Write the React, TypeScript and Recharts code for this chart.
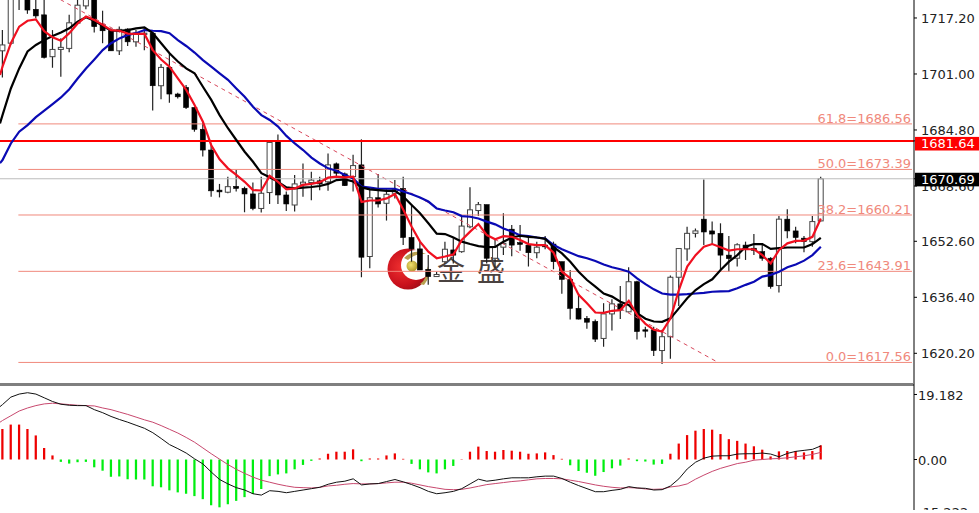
import React from "react";
import { ComposedChart, Bar, Line, XAxis, YAxis, ReferenceLine } from "recharts";

const opens = [1707.7,1709.9,1726,1726,1719.7,1718.1,1706.0,1708.1,1708.4,1715.7,1720.7,1726,1715.2,1713.5,1707.7,1714.0,1710.3,1712.5,1712.8,1697.6,1702.9,1695.2,1697.1,1691.3,1685.0,1679.0,1667.4,1666.8,1668.5,1667.9,1666.3,1662.1,1666.7,1681.4,1666.0,1663.1,1669.1,1669.6,1670.1,1669.8,1675.0,1672.1,1671.3,1674.7,1648.2,1665.2,1663.6,1666.5,1667.9,1653.7,1650.4,1644.5,1642.4,1646.7,1650.1,1649.6,1656.8,1661.5,1663.2,1647.7,1650.9,1656.1,1652.2,1651.5,1649.3,1651.5,1651.8,1646.7,1641.6,1633.2,1630.3,1629.4,1624.5,1631.6,1634.5,1632.2,1640.9,1627.0,1627.0,1621.0,1625.0,1642.2,1650.4,1654.9,1659.0,1655.6,1654.9,1648.6,1647.7,1651.5,1650.6,1649.6,1647.7,1639.8,1659.0,1655.6,1653.5,1652.5,1658.5];
const closes = [1709.4,1726,1724,1719.5,1717.8,1705.8,1708.1,1708.7,1715.8,1720.9,1723,1714.7,1713.5,1707.7,1713.9,1710.3,1712.8,1712.8,1697.6,1702.9,1695.2,1694.4,1691.3,1685.0,1679.0,1667.2,1666.9,1668.4,1667.9,1666.3,1662.1,1666.5,1681.2,1666.0,1663.4,1669.2,1669.7,1670.3,1669.2,1674.7,1672.3,1668.7,1674.5,1648.0,1665.2,1663.4,1666.2,1667.5,1653.7,1650.4,1644.3,1642.4,1643.0,1650.3,1648.6,1657.0,1661.7,1663.2,1647.7,1651.0,1652.0,1651.5,1651.7,1649.3,1650.9,1651.0,1646.7,1641.6,1633.2,1630.1,1629.2,1624.3,1631.6,1634.5,1632.7,1640.9,1626.5,1626.6,1621.0,1625.0,1642.2,1650.5,1654.9,1655.6,1655.3,1654.7,1648.6,1647.6,1651.6,1650.3,1650.0,1647.7,1639.5,1659.0,1655.6,1653.7,1652.5,1658.3,1670.69];
const highs = [1713.7,1728,1730,1728,1725,1724,1713.7,1711.3,1718.1,1723,1725,1728,1719.3,1714.2,1714.7,1714.2,1713.7,1714.2,1713.2,1703.9,1706.8,1695.6,1697.8,1691.5,1687.2,1680.4,1669.2,1671.3,1673.2,1668.4,1669.6,1671.3,1681.4,1683.5,1667.0,1671.8,1675.1,1672.7,1671.3,1678.0,1675.4,1672.5,1677.6,1682.1,1667.6,1672.1,1667.6,1670.3,1671.3,1663.1,1652.5,1648.6,1643.8,1652.5,1653.5,1659.9,1668.2,1664.0,1663.2,1653.0,1660.7,1657.3,1657.3,1654.1,1652.5,1654.1,1652.5,1646.7,1644.3,1637.5,1631.0,1630.0,1634.7,1635.8,1639.7,1645.1,1641.2,1627.9,1627.9,1627.0,1642.7,1650.6,1656.8,1656.3,1670.5,1658.3,1657.8,1654.1,1652.0,1652.5,1654.7,1652.0,1648.0,1659.9,1661.9,1656.8,1654.1,1659.9,1671.3];
const lows = [1700.0,1709.4,1719.5,1718.4,1717.1,1705.5,1702.8,1700.2,1707.3,1715.5,1719.7,1713.0,1709.9,1707.7,1706.5,1709.1,1708.9,1707.9,1690.4,1693.7,1692.7,1693.9,1690.9,1684.3,1677.1,1665.5,1665.3,1666.5,1667.0,1661.0,1661.6,1660.9,1663.4,1663.4,1661.4,1661.2,1665.5,1664.5,1667.4,1667.2,1670.8,1668.6,1667.0,1642.2,1644.8,1662.4,1658.6,1665.0,1651.5,1646.7,1644.3,1640.0,1642.4,1646.2,1646.2,1649.3,1656.4,1659.9,1646.2,1644.8,1648.6,1648.3,1649.9,1645.3,1647.7,1650.3,1644.5,1637.4,1630.0,1630.0,1627.3,1623.5,1622.1,1626.8,1630.1,1632.0,1624.2,1624.8,1619.4,1617.1,1618.6,1633.9,1647.0,1653.7,1651.5,1651.5,1644.1,1643.8,1645.3,1647.2,1648.6,1647.0,1638.9,1637.8,1653.5,1652.0,1649.4,1651.0,1658.3];

const maFast = [1703.1,1709.9,1714.7,1716.4,1716.8,1713.4,1711.6,1710.6,1712.8,1715.6,1717.6,1716.6,1715.2,1713.7,1713.5,1712.7,1712.6,1712.6,1707.9,1705.2,1703.1,1699.7,1696.4,1692.0,1687.2,1680.4,1676.3,1673.7,1671.8,1669.8,1667.4,1667.3,1671.5,1669.8,1667.6,1667.9,1668.9,1669.2,1669.7,1671.0,1671.3,1671.1,1671.3,1664.0,1664.4,1664.4,1665.0,1666.3,1661.7,1656.8,1652.5,1649.6,1647.7,1648.2,1648.8,1653.0,1655.4,1657.6,1654.4,1653.2,1654.1,1653.9,1653.0,1651.8,1651.5,1651.5,1649.3,1643.8,1641.9,1637.1,1634.7,1632.0,1631.9,1632.5,1632.7,1635.4,1631.3,1628.7,1627.0,1626.5,1630.3,1638.5,1645.3,1648.6,1651.0,1651.8,1650.9,1649.9,1650.3,1650.3,1650.3,1648.6,1646.2,1650.1,1652.0,1652.7,1652.8,1653.9,1659.2];
const maMid = [1689.1,1696.8,1702.6,1707.5,1709.4,1710.8,1712.0,1713.0,1714.2,1716.1,1717.4,1716.4,1714.9,1713.5,1713.5,1713.7,1714.2,1714.5,1712.8,1709.9,1707.0,1704.6,1702.6,1701.2,1697.3,1693.5,1689.1,1685.3,1681.9,1678.5,1675.6,1672.3,1671.1,1669.8,1668.2,1667.9,1668.1,1668.3,1668.6,1669.2,1670.3,1670.5,1669.9,1668.2,1667.6,1667.4,1667.2,1667.2,1665.5,1663.1,1660.7,1657.8,1654.8,1654.7,1653.7,1652.5,1651.8,1651.2,1650.9,1651.0,1652.5,1653.7,1654.2,1653.9,1653.7,1653.3,1650.9,1649.1,1646.7,1643.8,1641.4,1639.5,1637.5,1636.6,1635.1,1634.2,1631.8,1630.2,1629.4,1629.3,1630.3,1633.2,1636.1,1638.5,1640.2,1641.6,1644.3,1646.7,1648.6,1651.0,1651.8,1651.8,1650.4,1650.6,1650.8,1650.8,1650.8,1651.8,1653.6];
const maSlow = [1676.1,1680.9,1684.3,1686.2,1688.5,1690.4,1692.3,1694.2,1696.6,1699.7,1702.6,1705.2,1707.9,1709.9,1711.3,1712.3,1712.8,1713.7,1713.5,1713.4,1712.8,1710.8,1709.1,1707.2,1705.0,1703.1,1701.2,1699.3,1696.8,1694.4,1691.5,1689.1,1687.7,1685.8,1683.1,1680.9,1679.0,1676.8,1675.1,1673.7,1673.0,1671.8,1670.8,1668.4,1668.1,1667.8,1667.8,1667.8,1667.0,1666.2,1665.3,1664.1,1662.1,1661.5,1661.0,1659.9,1659.7,1659.2,1658.3,1657.5,1656.3,1655.4,1654.3,1654.1,1653.7,1653.4,1651.5,1650.3,1649.3,1648.3,1647.7,1646.9,1645.9,1645.1,1644.5,1643.8,1641.9,1640.2,1638.7,1637.5,1637.2,1637.2,1637.3,1637.5,1637.7,1638.0,1638.1,1638.2,1639.0,1640.0,1640.9,1642.4,1642.9,1643.8,1645.1,1645.9,1647.0,1648.6,1651.0];
const leadMa = { fast: 1700.7, mid: 1686.7, slow: 1675.2, macd: 15.6, signal: 11.0 };

const histogram = [9.0,10.3,10.3,9.0,7.1,3.4,1.2,-0.7,-1.2,-0.8,-0.7,-2.3,-3.3,-5.1,-5.0,-5.8,-5.9,-5.9,-7.9,-8.2,-9.1,-9.7,-10.1,-10.8,-11.7,-13.5,-14.1,-13.2,-12.2,-11.1,-10.2,-8.7,-4.9,-4.4,-4.1,-2.9,-1.6,-0.4,0.3,1.7,2.3,2.3,3.0,-0.5,0.3,0.3,1.2,1.8,0.2,-1.3,-2.9,-3.8,-4.1,-2.9,-1.9,0.1,2.3,3.8,2.5,2.3,2.8,2.6,2.3,1.7,1.8,2.1,1.3,0.2,-1.7,-3.4,-3.9,-4.8,-3.7,-2.6,-1.8,0.3,-0.5,-0.6,-1.5,-1.3,1.7,4.7,7.2,8.5,9.0,8.8,7.5,6.0,5.5,4.7,3.9,2.9,0.9,2.4,2.5,2.5,2.1,2.5,4.2];
const macdLine = [16.2,18.4,19.3,19.7,19.3,18.2,17.1,16.3,16.0,15.9,15.9,14.7,13.8,12.7,11.8,11.0,10.1,9.2,7.9,6.2,4.4,3.2,1.9,0.2,-1.3,-3.7,-5.9,-7.2,-8.3,-9.0,-10.1,-10.5,-9.2,-9.4,-9.8,-9.4,-9.0,-8.6,-8.2,-7.3,-6.7,-6.4,-5.7,-7.5,-7.2,-7.1,-6.5,-5.9,-6.6,-7.4,-8.3,-9.4,-10.1,-9.8,-9.4,-8.6,-7.2,-5.8,-6.4,-6.1,-5.7,-5.4,-5.4,-5.4,-5.1,-4.9,-4.9,-5.6,-6.7,-7.7,-8.6,-9.5,-9.5,-9.1,-8.8,-8.0,-8.4,-8.5,-9.0,-8.9,-7.8,-5.7,-2.8,-0.8,0.4,1.0,1.1,1.1,1.6,1.7,1.7,1.9,1.6,0.8,1.8,2.4,2.7,3.0,4.0];
const signalLine = [11.5,12.9,14.3,15.2,15.9,16.4,16.6,16.4,16.2,16.0,15.9,15.8,15.2,14.7,14.0,13.3,12.5,11.7,11.0,10.0,8.9,7.8,6.5,5.1,3.4,1.7,0.1,-1.5,-2.9,-4.1,-5.2,-6.1,-6.7,-7.3,-7.8,-8.2,-8.3,-8.4,-8.2,-7.8,-7.6,-7.3,-7.1,-7.2,-7.2,-7.1,-6.9,-6.7,-6.7,-7.0,-7.5,-8.0,-8.4,-8.8,-8.9,-8.8,-8.4,-7.9,-7.4,-7.1,-6.8,-6.5,-6.3,-6.0,-5.7,-5.6,-5.6,-5.7,-6.1,-6.5,-7.0,-7.5,-7.9,-8.2,-8.4,-8.3,-8.4,-8.7,-8.8,-8.7,-8.1,-7.8,-7.2,-5.8,-4.6,-3.5,-2.6,-1.9,-1.2,-0.8,-0.2,0.0,0.2,0.3,0.5,0.8,1.1,1.5,2.1];

const fibRatios = ["0.0", "23.6", "38.2", "50.0", "61.8"];
const fibPrices = [1617.56, 1643.91, 1660.21, 1673.39, 1686.56];
const fibTopPrice = 1729.22;
const resistance = 1681.64;
const lastPrice = 1670.69;
const priceTicks = [1717.2, 1701.0, 1684.8, 1668.6, 1652.6, 1636.4, 1620.2, resistance, lastPrice];
const macdTicks = [19.182, 0, -15.222];

const FONT = "'DejaVu Sans', Verdana, sans-serif";
const CJK = "'Noto Sans CJK SC', sans-serif";
const FIB = "#f0897c";
const TEXT = "#222";
const AXIS_W = 65;
const X_DOMAIN: [number, number] = [-0.3, 109.16];

const priceRows: any[] = [
  { i: X_DOMAIN[0], fast: leadMa.fast, mid: leadMa.mid, slow: leadMa.slow },
  ...opens.map((o, i) => ({
    i,
    open: o,
    close: closes[i],
    high: highs[i],
    low: lows[i],
    range: [lows[i], highs[i]],
    fast: maFast[i],
    mid: maMid[i],
    slow: maSlow[i],
  })),
];

const macdRows: any[] = [
  { i: X_DOMAIN[0], macd: leadMa.macd, signal: leadMa.signal, up: 0, down: 0 },
  ...histogram.map((h, i) => ({
    i,
    up: h > 0 ? h : 0,
    down: h < 0 ? h : 0,
    macd: macdLine[i],
    signal: signalLine[i],
  })),
];

const Candle = (props: any) => {
  const { x, y, width, height, payload } = props;
  if (!payload || payload.high == null || !Number.isFinite(y)) return null;
  const perUnit = height / (payload.high - payload.low);
  const yOf = (v: number) => y + (payload.high - v) * perUnit;
  const cx = x + width / 2;
  const up = payload.close >= payload.open;
  const top = yOf(Math.max(payload.open, payload.close));
  const bot = yOf(Math.min(payload.open, payload.close));
  return (
    <g>
      <line x1={cx} x2={cx} y1={y} y2={y + height} stroke="#222" strokeWidth={1.2} />
      <rect
        x={cx - 2.5}
        y={top}
        width={5}
        height={Math.max(bot - top, 1.2)}
        fill={up ? "#fff" : "#000"}
        stroke={up ? "#444" : "#000"}
        strokeWidth={up ? 1 : 0.6}
      />
    </g>
  );
};

const PriceTick = (props: any) => {
  const { x, y, payload } = props;
  const v = payload.value;
  if (v === resistance || v === lastPrice) {
    const red = v === resistance;
    const rectTop = red ? y - 4 : y - 6;
    return (
      <g>
        <rect x={x - 6} y={rectTop} width={70} height={13.6} fill={red ? "#ff0000" : "#000"} />
        <text x={x} y={rectTop + 11.2} fontFamily={FONT} fontSize={13} fill="#fff">
          {v.toFixed(2)}
        </text>
      </g>
    );
  }
  return (
    <text x={x} y={y + 5} fontFamily={FONT} fontSize={13} fill={TEXT}>
      {v.toFixed(2)}
    </text>
  );
};

const MacdTick = (props: any) => {
  const { x, y, payload } = props;
  const v = payload.value;
  return (
    <text x={x} y={y + 5.5} fontFamily={FONT} fontSize={13} fill={TEXT}>
      {v === 0 ? "0.00" : v.toFixed(3)}
    </text>
  );
};

const Watermark = () => (
  <svg width={979} height={513} style={{ position: "absolute", left: 0, top: 0 }}>
    <defs>
      <radialGradient id="moon" cx="35%" cy="45%" r="75%">
        <stop offset="0%" stopColor="#f03030" />
        <stop offset="60%" stopColor="#c8101c" />
        <stop offset="100%" stopColor="#8c0a14" />
      </radialGradient>
      <radialGradient id="ball" cx="40%" cy="40%" r="70%">
        <stop offset="0%" stopColor="#f0e070" />
        <stop offset="100%" stopColor="#a89020" />
      </radialGradient>
    </defs>
    <circle cx={408} cy={269} r={20.5} fill="url(#moon)" />
    <circle cx={416} cy={265} r={15} fill="#fff" />
    <circle cx={412} cy={266} r={5.5} fill="url(#ball)" />
    <path d="M404 258 Q414 248 426 254 Q415 253 408 260 Z" fill="#b8a050" />
    <path d="M420 284 Q428 278 427 266 Q432 276 424 285 Z" fill="#b8a050" />
    <text x={437} y={281} fontFamily={CJK} fontSize={28} fill="#4a4240">
      <tspan>金</tspan>
      <tspan x={477}>盛</tspan>
    </text>
  </svg>
);

export default function App() {
  return (
    <div style={{ position: "absolute", left: 0, top: 0, width: 979, height: 513, background: "#fff", overflow: "hidden" }}>
      <Watermark />
      <div style={{ position: "absolute", left: 0, top: 0 }}>
        <ComposedChart width={979} height={384} data={priceRows} margin={{ top: 0, right: 0, bottom: 0, left: 0 }}>
          <XAxis type="number" dataKey="i" domain={X_DOMAIN} hide allowDataOverflow />
          <YAxis
            orientation="right"
            width={AXIS_W}
            domain={[1611.32, 1722.4]}
            allowDataOverflow
            ticks={priceTicks}
            interval={0}
            axisLine={{ stroke: "#000", strokeWidth: 1 }}
            tickLine={{ stroke: "#000" }}
            tickSize={3}
            tickMargin={4}
            tick={<PriceTick />}
          />
          <ReferenceLine
            segment={[{ x: 1.9, y: fibTopPrice }, { x: 85.7, y: fibPrices[0] }]}
            stroke="#d8485c"
            strokeWidth={1}
            strokeDasharray="4 4"
            ifOverflow="hidden"
          />
          {fibPrices.map((p, k) => (
            <ReferenceLine
              key={p}
              segment={[{ x: 1.9, y: p }, { x: 108.92, y: p }]}
              stroke={FIB}
              strokeWidth={1}
              label={{
                value: `${fibRatios[k]}=${p.toFixed(2)}`,
                position: "insideBottomRight",
                offset: 1,
                fill: FIB,
                fontSize: 13,
                fontFamily: FONT,
              }}
            />
          ))}
          <ReferenceLine y={lastPrice} stroke="#bdbdbd" strokeWidth={1} />
          <Bar dataKey="range" barSize={5} shape={<Candle />} isAnimationActive={false} />
          <ReferenceLine y={resistance} stroke="#ff0000" strokeWidth={2} />
          <Line dataKey="slow" type="linear" stroke="#0a0ab4" strokeWidth={2.2} dot={false} activeDot={false} isAnimationActive={false} />
          <Line dataKey="mid" type="linear" stroke="#000" strokeWidth={2.2} dot={false} activeDot={false} isAnimationActive={false} />
          <Line dataKey="fast" type="linear" stroke="#f01020" strokeWidth={2.2} dot={false} activeDot={false} isAnimationActive={false} />
        </ComposedChart>
      </div>
      <div style={{ position: "absolute", left: 0, top: 383, width: 914, height: 3, background: "#7f7f7f" }} />
      <div style={{ position: "absolute", left: 0, top: 384, width: 979, height: 126, overflow: "hidden" }}>
        <ComposedChart width={979} height={129} data={macdRows} margin={{ top: 0, right: 0, bottom: 0, left: 0 }} stackOffset="sign">
          <XAxis type="number" dataKey="i" domain={X_DOMAIN} hide allowDataOverflow />
          <YAxis
            orientation="right"
            width={AXIS_W}
            domain={[-15.78, 22.27]}
            allowDataOverflow
            ticks={macdTicks}
            interval={0}
            axisLine={{ stroke: "#000", strokeWidth: 1 }}
            tickLine={{ stroke: "#000" }}
            tickSize={3}
            tickMargin={1}
            tick={<MacdTick />}
          />
          <Bar dataKey="up" stackId="h" barSize={3} fill="#ee0000" isAnimationActive={false} />
          <Bar dataKey="down" stackId="h" barSize={3} fill="#00ee10" isAnimationActive={false} />
          <Line dataKey="signal" type="linear" stroke="#c8486e" strokeWidth={1} dot={false} activeDot={false} isAnimationActive={false} />
          <Line dataKey="macd" type="linear" stroke="#111" strokeWidth={1} dot={false} activeDot={false} isAnimationActive={false} />
        </ComposedChart>
      </div>
    </div>
  );
}
